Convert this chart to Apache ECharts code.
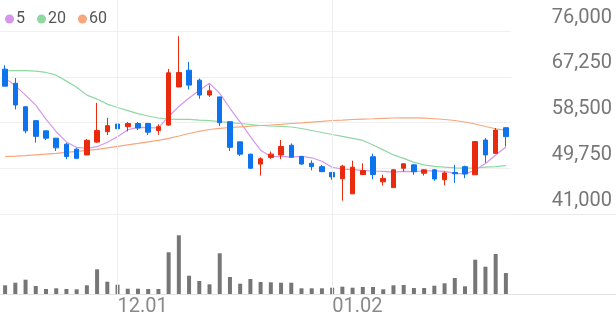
<!DOCTYPE html>
<html><head><meta charset="utf-8">
<script src="https://cdn.jsdelivr.net/npm/echarts@6/dist/echarts.min.js"></script>
<style>html,body{margin:0;padding:0;background:#fff}#c{width:616px;height:321px}</style>
</head><body><div id="c"></div>
<script>
const dates = ['11.16','11.17','11.18','11.21','11.22','11.23','11.24','11.25','11.28','11.29','11.30',
  '12.01','12.02','12.05','12.06','12.07','12.08','12.09','12.12','12.13','12.14','12.15','12.16','12.19','12.20','12.21','12.22','12.23','12.26','12.27','12.28','12.29',
  '01.02','01.03','01.04','01.05','01.06','01.09','01.10','01.11','01.12','01.13','01.16','01.17','01.18','01.19','01.20','01.25','01.26','01.27'];
const opens  = [68700,66000,61500,58850,56900,55500,54350,53400,52300,54750,56750,58200,57700,58300,58300,56950,58000,65300,68500,66600,63750,63400,58650,54800,52450,50550,51800,52300,54150,52000,50700,50050,48950,47750,44850,48550,51950,47150,46050,49750,50400,48800,49450,47550,48950,50050,48500,55150,52600,57500];
const closes = [65450,61850,56900,55850,55500,53650,52000,51650,55100,56950,57900,57300,58300,57450,56650,57700,68000,68050,65650,63750,64550,58450,53750,52450,49750,51550,52450,53900,51850,50550,50050,49100,48100,50150,49950,49300,48550,47800,49450,50600,49100,49450,47700,48850,48700,48650,54850,52300,57050,55800];
const lows   = [65450,61000,56450,54650,55150,53050,51500,51600,52250,54650,56100,56900,56800,57050,56100,56150,57900,65250,64800,63050,63400,57850,53050,52100,49600,48350,51550,51500,51800,50400,49350,49000,47550,43550,44850,48500,47650,46450,46050,49100,48500,48350,47350,46500,46950,47850,48500,50800,52600,53900];
const highs  = [69450,67000,61650,58950,56950,55550,54600,53600,55350,62250,59400,59950,58600,58600,58450,58150,68750,75000,70100,66900,65600,63400,58650,54800,52500,51850,52950,55150,54500,52100,51250,50400,48950,50400,51200,50700,52550,48500,49600,50700,50500,49600,49600,49150,50400,50250,54950,55500,57450,57600];
const ma5  = [67040,65510,63740,61830,59160,56740,54780,53730,53580,53870,54720,55790,57110,57580,57530,57490,59620,61570,63200,64630,65990,64080,61220,58590,55790,53200,52000,52020,51880,52040,51750,51080,49940,49600,49480,49330,49220,49140,49010,49140,49100,49270,49250,49140,48760,48660,49400,50660,52300,53800];
const ma20 = [68370,68450,68410,68310,68070,67550,66410,65260,63740,62980,62020,61360,60780,60210,59740,59360,59160,59110,59110,58970,58840,58690,58460,58310,58120,57930,57830,57740,57640,57350,56970,56590,56210,55830,55450,55070,54210,53260,52300,51640,50870,50400,50110,49960,49830,49770,49830,49960,50070,50240];
const ma60 = [51980,52060,52170,52300,52440,52590,52780,52970,53160,53350,53640,53920,54210,54490,54780,55070,55450,55920,56400,56820,57160,57390,57540,57680,57790,57930,58020,58150,58310,58440,58590,58730,58880,58970,59070,59160,59220,59300,59360,59390,59390,59320,59220,59070,58880,58590,58210,57740,57300,57010];
const volumes = [87,113,143,80,50,57,50,47,87,247,123,93,53,53,50,50,417,587,183,130,97,407,170,103,150,120,117,113,113,57,57,57,63,73,63,70,70,47,87,90,60,60,83,107,160,77,343,273,400,210];
const priceTicks = [41000,49750,58500,67250,76000];
const maNames = ['5','20','60'];
const monthStarts = ['12.01','01.02'];

const UP = '#ea2a0d', DOWN = '#0d74ee';
const FONT = 'Roboto';
const chart = echarts.init(document.getElementById('c'), null, {renderer:'canvas'});
const candleData = opens.map((o,i)=>[o, closes[i], lows[i], highs[i]]);
const showMonthLabel = (idx) => idx > 0 && dates[idx].slice(0,2) !== dates[idx-1].slice(0,2);

chart.setOption({
  animation:false,
  backgroundColor:'#fff',
  textStyle:{fontFamily:FONT},
  legend:{
    data:maNames, left:0, top:6, icon:'circle', itemWidth:9, itemHeight:9, itemGap:12,
    textStyle:{fontSize:16, color:'#555', fontFamily:FONT, padding:[0,0,0,-3]}
  },
  grid:[
    {left:0, right:105, top:31, height:183},
    {left:0, right:105, top:226, height:68},
    {left:0, right:105, top:0, height:294}
  ],
  xAxis:[
    {type:'category', data:dates, gridIndex:0, boundaryGap:true, axisLine:{show:false}, axisTick:{show:false}, axisLabel:{show:false}, splitLine:{show:false}},
    {type:'category', data:dates, gridIndex:1, boundaryGap:true, axisLine:{show:false}, axisTick:{show:false},
      axisLabel:{show:true, interval:(idx)=>showMonthLabel(idx), align:'left', margin:3, fontSize:20, color:'#8a8a8a', fontFamily:FONT},
      splitLine:{show:false}},
    {type:'category', data:dates, gridIndex:2, boundaryGap:true, show:false}
  ],
  yAxis:[
    {type:'value', gridIndex:0, position:'right', min:priceTicks[0], max:priceTicks[priceTicks.length-1], scale:true,
      axisLine:{show:false}, axisTick:{show:false, customValues:priceTicks},
      axisLabel:{customValues:priceTicks, align:'right', margin:101, fontSize:20, color:'#777', fontFamily:FONT,
        verticalAlign:'bottom', lineHeight:27, formatter:(v)=>v.toLocaleString('en-US')},
      splitLine:{show:true, lineStyle:{color:'#f0f0f0', width:1}}},
    {type:'value', gridIndex:1, min:0, max:680, show:false, splitLine:{show:false}},
    {type:'value', gridIndex:2, min:0, max:1, show:false, splitLine:{show:false}}
  ],
  series:[
    {type:'line', name:'guides', xAxisIndex:2, yAxisIndex:2, data:[], z:0, silent:true,
      markLine:{silent:true, symbol:['none','none'], label:{show:false}, animation:false,
        lineStyle:{color:'#eeeeee', width:1, type:'solid'}, data:monthStarts.map(d=>({xAxis:d}))}},
    {type:'line', name:maNames[0], data:ma5, xAxisIndex:0, yAxisIndex:0, symbol:'none', z:3,
      lineStyle:{color:'#d596ec', width:1.2}, itemStyle:{color:'#d596ec'}},
    {type:'line', name:maNames[1], data:ma20, xAxisIndex:0, yAxisIndex:0, symbol:'none', z:3,
      lineStyle:{color:'#8fd8a2', width:1.2}, itemStyle:{color:'#8fd8a2'}},
    {type:'line', name:maNames[2], data:ma60, xAxisIndex:0, yAxisIndex:0, symbol:'none', z:3,
      lineStyle:{color:'#f8a67c', width:1.2}, itemStyle:{color:'#f8a67c'}},
    {type:'candlestick', name:'price', data:candleData, xAxisIndex:0, yAxisIndex:0, barWidth:5, z:4,
      itemStyle:{color:UP, color0:DOWN, borderColor:UP, borderColor0:DOWN, borderWidth:1}},
    {type:'bar', name:'volume', data:volumes, xAxisIndex:1, yAxisIndex:1, barWidth:4, itemStyle:{color:'#767676'}}
  ]
});

const yDiv = Math.round(chart.convertToPixel({yAxisIndex:0}, priceTicks[0])) + 0.5;
const yBase = Math.round(chart.convertToPixel({yAxisIndex:1}, 0)) + 0.5;
chart.setOption({graphic:[
  {type:'line', z:-1, shape:{x1:0, y1:yDiv, x2:616, y2:yDiv}, style:{stroke:'#eaeaea', lineWidth:1}},
  {type:'line', z:-1, shape:{x1:0, y1:yBase, x2:616, y2:yBase}, style:{stroke:'#e2e2e2', lineWidth:1}}
]});
</script></body></html>
